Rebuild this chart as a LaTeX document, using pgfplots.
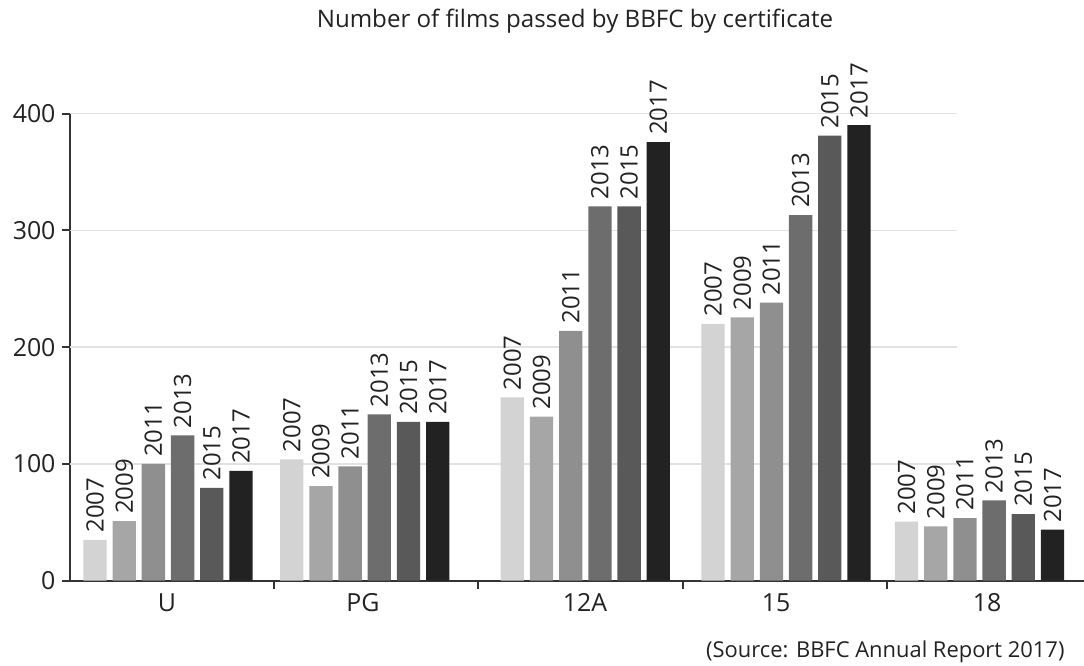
\documentclass[border=0pt]{standalone}
\usepackage{pgfplots}
\usepackage{pgfplotstable}
\pgfplotsset{compat=1.18}
\usepackage{fontspec}
\setmainfont{Open Sans}
\definecolor{c07}{HTML}{D3D3D3}
\definecolor{c09}{HTML}{A6A6A6}
\definecolor{c11}{HTML}{8F8F8F}
\definecolor{c13}{HTML}{6D6D6D}
\definecolor{c15}{HTML}{595959}
\definecolor{c17}{HTML}{222222}
\definecolor{axisc}{HTML}{333333}
\definecolor{textc}{HTML}{222222}
\definecolor{gridc}{HTML}{E2E2E2}
\pgfplotstableread{
x c2007 c2009 c2011 c2013 c2015 c2017
168 35 51 100 124.5 79.5 94
364.7 104 81 98 142.5 136 136
585.3 157 140.5 214 320.5 320.5 375.6
786 220 225.5 238 313 381 390
979.5 50.5 46.5 53.7 68.8 57 43.7
}\datatable
\begin{document}
\begin{tikzpicture}
\begin{axis}[
  x=1bp, y=1.168bp,
  xmin=70, xmax=1084, ymin=0, ymax=400,
  axis x line=bottom, axis y line=left,
  axis line style={line width=2.2bp, color=axisc, -},
  ytick={0,100,200,300,400},
  xtick={274,478,683,887}, xticklabels={},
  extra x ticks={167,363,585,776,987},
  extra x tick labels={U,PG,12A,15,18},
  extra x tick style={major tick length=0pt, tick style={draw=none},
     ticklabel style={yshift=-9bp}},
  tick align=outside, major tick length=8bp, minor tick num=0,
  tick style={line width=2bp, color=axisc},
  ticklabel style={font=\fontsize{25}{29}\selectfont, text=textc},
  yticklabel style={xshift=-3bp},
  /pgf/number format/assume math mode=true,
  clip=false,
  ybar, bar width=23.3bp,
  every node near coord/.append style={rotate=90, anchor=west, inner xsep=7bp, inner ysep=0pt,
     font=\fontsize{24}{28}\selectfont, text=textc},
]
\foreach \v in {100,200,300,400}{
  \edef\tmp{\noexpand\draw[gridc, line width=1.3bp] (axis cs:70,\v) -- (axis cs:957,\v);}\tmp
}
\addplot[fill=c07, draw=none, bar shift=-73bp, nodes near coords={2007}] table[x=x, y=c2007] {\datatable};
\addplot[fill=c09, draw=none, bar shift=-43.8bp, nodes near coords={2009}] table[x=x, y=c2009] {\datatable};
\addplot[fill=c11, draw=none, bar shift=-14.6bp, nodes near coords={2011}] table[x=x, y=c2011] {\datatable};
\addplot[fill=c13, draw=none, bar shift=14.6bp, nodes near coords={2013}] table[x=x, y=c2013] {\datatable};
\addplot[fill=c15, draw=none, bar shift=43.8bp, nodes near coords={2015}] table[x=x, y=c2015] {\datatable};
\addplot[fill=c17, draw=none, bar shift=73bp, nodes near coords={2017}] table[x=x, y=c2017] {\datatable};
\node[font=\fontsize{24.2}{28}\selectfont, text=textc] at (axis cs:575,479.2) {Number of films passed by BBFC by certificate};
\node[anchor=east, font=\fontsize{22}{26}\selectfont, text=textc] at (axis cs:1068,-61) {(Source: BBFC Annual Report 2017)};
\coordinate (bbSW) at (axis cs:0,-73.0);
\coordinate (bbNE) at (axis cs:1084,497.2);
\end{axis}
\pgfresetboundingbox
\path[use as bounding box] (bbSW) rectangle (bbNE);
\end{tikzpicture}
\end{document}
